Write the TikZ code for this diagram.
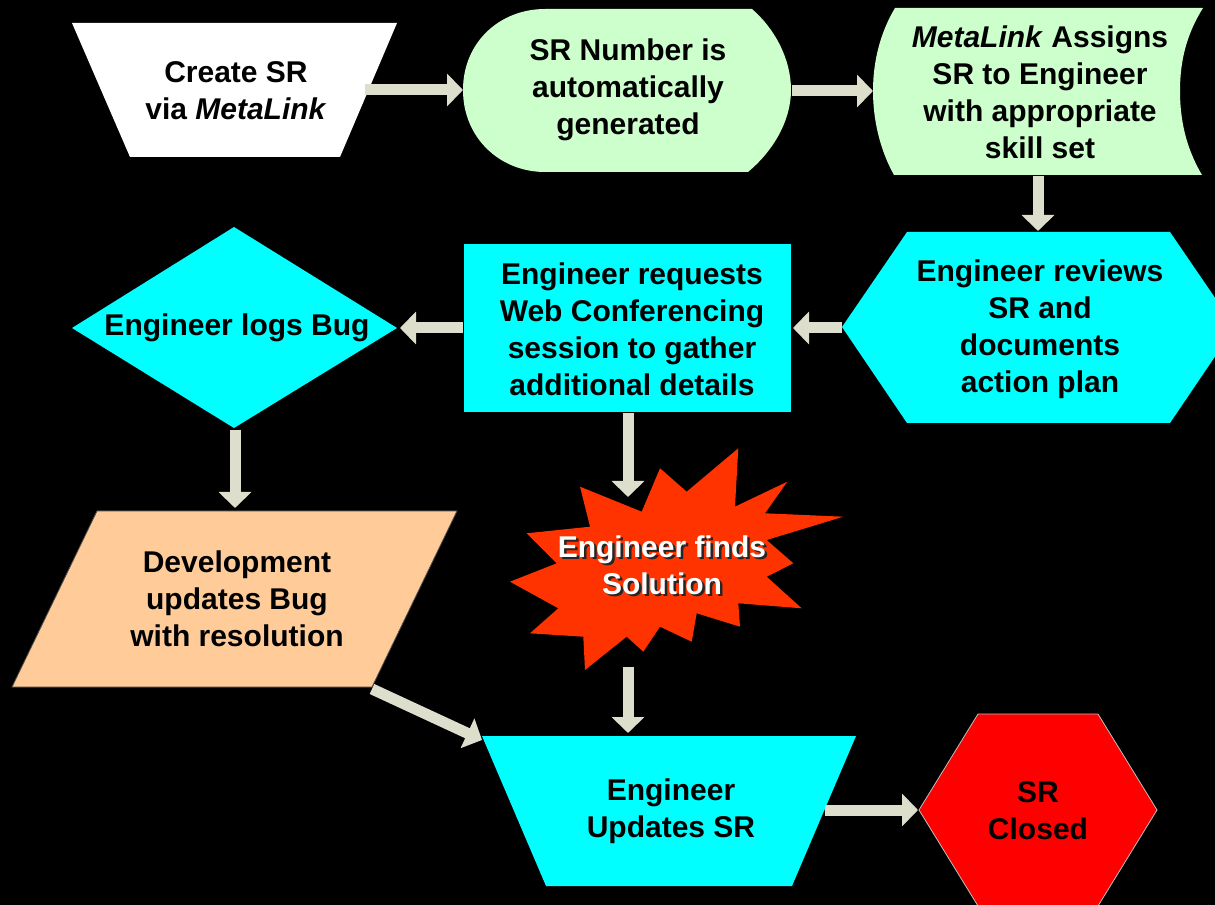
\documentclass[tikz,border=0pt]{standalone}
\usepackage{fontspec}
\setmainfont{Liberation Sans}
\usetikzlibrary{arrows.meta}
\definecolor{lgreen}{RGB}{204,255,204}
\definecolor{cyanf}{RGB}{0,255,255}
\definecolor{peach}{RGB}{255,204,153}
\definecolor{burst}{RGB}{255,51,0}
\definecolor{stopred}{RGB}{255,0,0}
\definecolor{arrowc}{RGB}{221,222,204}
\begin{document}
\begin{tikzpicture}[x=0.75pt,y=-0.75pt,
  lbl/.style={font=\bfseries\fontsize{22.5}{27.75}\selectfont, align=center, inner sep=0pt, text=black},
  flow/.style={draw=arrowc, line width=8.25pt, -{Triangle[width=24pt,length=12pt]}},
  shapeline/.style={line width=0.6pt},
]
\useasboundingbox (0,0) rectangle (1215,905);
\fill[black] (0,0) rectangle (1215,905);
\clip (0,0) rectangle (1215,905);

% --- shapes ---
% Create SR (manual operation)
\fill[white] (72,23) -- (397,23) -- (340,157) -- (130,157) -- cycle;
% SR number (display)
\fill[lgreen] (463,90) .. controls (463,42) and (500,9) .. (545,9) -- (752,9)
  .. controls (774,28) and (791,58) .. (791,90)
  .. controls (791,122) and (772,152) .. (748,172) -- (545,172)
  .. controls (500,172) and (463,138) .. cycle;
% Assign (stored data)
\fill[lgreen] (895,8) -- (1203,8) .. controls (1186,35) and (1180,62) .. (1180,91)
  .. controls (1180,120) and (1186,148) .. (1202,175) -- (894,175)
  .. controls (880,150) and (873,120) .. (873,91)
  .. controls (873,62) and (880,33) .. cycle;
% Review (hexagon)
\fill[cyanf] (907,232) -- (1170,232) -- (1235,327) -- (1170,423) -- (907,423) -- (842,327) -- cycle;
% Request (rectangle)
\fill[cyanf] (464,244) rectangle (791,412);
% Logs bug (diamond)
\fill[cyanf] (234,227) -- (397,328) -- (234,428) -- (72,328) -- cycle;
% Development (parallelogram)
\filldraw[fill=peach, draw=black!70, shapeline] (97,511) -- (457,511) -- (372,687) -- (12,687) -- cycle;
% Starburst
\fill[burst] (660,468.3) -- (686.7,491.7) -- (738.3,448.3) -- (735,506.7) -- (787.3,481.7)
  -- (765,513.3) -- (843.3,516.7) -- (766.7,540) -- (793.3,563.3) -- (766.7,576.7)
  -- (801.7,608.3) -- (738.3,603.3) -- (740,626.7) -- (696.7,613.3) -- (691.7,641.7)
  -- (660,626.7) -- (643.3,651.7) -- (626.7,636.7) -- (585,670) -- (583.3,636.7)
  -- (530,633.3) -- (558.3,608.3) -- (510,581.7) -- (556.7,563.3) -- (526.7,533.3)
  -- (590,526.7) -- (580,486.7) -- (641.7,511.7) -- cycle;
% Engineer updates SR (manual operation)
\fill[cyanf] (482,736) -- (856,736) -- (792,886) -- (546,886) -- cycle;
% SR closed (hexagon)
\filldraw[fill=stopred, draw=black!25, shapeline] (978,714) -- (1098,714) -- (1157,810) -- (1098,906) -- (978,906) -- (919,810) -- cycle;

% --- labels ---
\node[lbl] (create) at (236,91) {Create SR\\via \textit{MetaLink}};
\node[lbl] (srnum) at (628,90) {SR Number is\\automatically\\generated};
\node[lbl] (assign) at (1040,92) {\textit{MetaLink} Assigns\\SR to Engineer\\with appropriate\\skill set};
\node[lbl] (review) at (1040,329) {Engineer reviews\\SR and\\documents\\action plan};
\node[lbl] (request) at (632,329) {Engineer requests\\Web Conferencing\\session to gather\\additional details};
\node[lbl] (logbug) at (237,328) {Engineer logs Bug};
\node[lbl] (dev) at (237,599) {Development\\updates Bug\\with resolution};
\node[lbl, text=black!85] at (664.5,567.5) {Engineer finds\\Solution};
\node[lbl, text=white] (finds) at (662,565) {Engineer finds\\Solution};
\node[lbl] (update) at (671,811) {Engineer\\Updates SR};
\node[lbl] (closed) at (1038,811) {SR\\Closed};

% --- connector end points on the shape outlines ---
\coordinate (create-out) at (365,90);
\coordinate (srnum-in) at (463,90);
\coordinate (srnum-out) at (792,91);
\coordinate (assign-in) at (873,91);
\coordinate (assign-out) at (1038,176);
\coordinate (review-in) at (1038,231);
\coordinate (review-out) at (842,328);
\coordinate (request-in) at (793,328);
\coordinate (request-outL) at (463,328);
\coordinate (logbug-in) at (400,328);
\coordinate (request-outB) at (628,413);
\coordinate (finds-in) at (628,497);
\coordinate (logbug-out) at (235,430);
\coordinate (dev-in) at (235,508);
\coordinate (dev-out) at (372,689);
\coordinate (update-inL) at (482,740);
\coordinate (finds-out) at (628,667);
\coordinate (update-inT) at (628,733);
\coordinate (update-out) at (825,810);
\coordinate (closed-in) at (918,810);

% --- connectors ---
\draw[flow] (create-out) -- (srnum-in);
\draw[flow] (srnum-out) -- (assign-in);
\draw[flow] (assign-out) -- (review-in);
\draw[flow] (review-out) -- (request-in);
\draw[flow] (request-outL) -- (logbug-in);
\draw[flow] (request-outB) -- (finds-in);
\draw[flow] (logbug-out) -- (dev-in);
\draw[flow] (dev-out) -- (update-inL);
\draw[flow] (finds-out) -- (update-inT);
\draw[flow] (update-out) -- (closed-in);
\end{tikzpicture}
\end{document}
